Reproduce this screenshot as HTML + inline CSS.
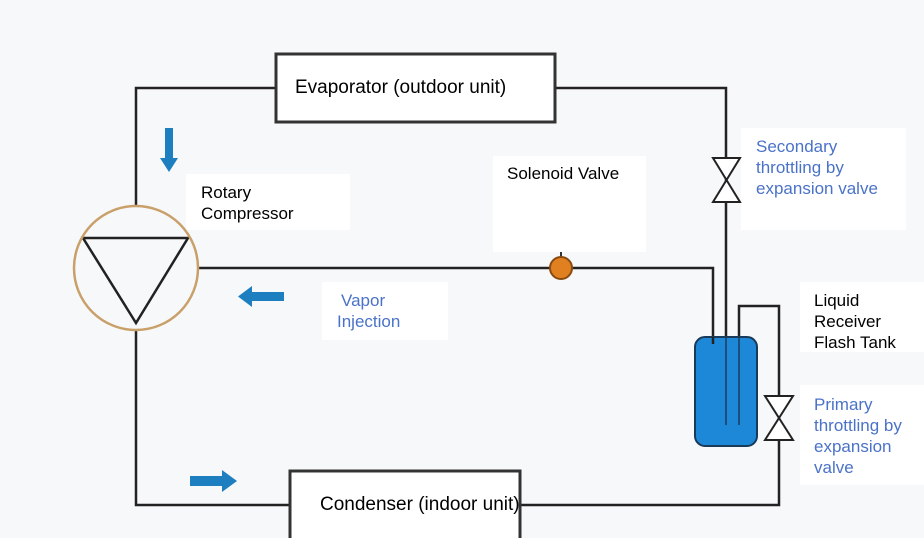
<!DOCTYPE html>
<html><head><style>
body{margin:0;background:#f7f8fa;}
.t{position:absolute;font-family:"Liberation Sans",sans-serif;font-size:17px;line-height:21px;}
.w{position:absolute;background:#fff;}
.b{color:#4a72c8;}
</style></head><body>
<div style="position:relative;width:924px;height:538px;overflow:hidden;">
<div class="w" style="left:186px;top:174px;width:164px;height:56px"></div>
<div class="w" style="left:493px;top:156px;width:153px;height:96px"></div>
<div class="w" style="left:741px;top:128px;width:165px;height:102px"></div>
<div class="w" style="left:322px;top:282px;width:126px;height:58px"></div>
<div class="w" style="left:800px;top:282px;width:124px;height:70px"></div>
<div class="w" style="left:800px;top:385px;width:124px;height:100px"></div>
<svg width="924" height="538" style="position:absolute;left:0;top:0">
<g stroke="#222" stroke-width="2.5" fill="none">
<path d="M136 206V88H276M555 88H726V340"/>
<path d="M198 268H713V340"/>
<path d="M739 425V306H779V505H520"/>
<path d="M136 330V505H290"/>
<path d="M83 238H188L136 323Z" stroke-width="2.5"/>
</g>
<circle cx="136" cy="268" r="62" fill="none" stroke="#c9a06a" stroke-width="2.5"/>
<rect x="276" y="54" width="279" height="68" fill="#fff" stroke="#333" stroke-width="3"/>
<rect x="290" y="471" width="230" height="80" fill="#fff" stroke="#333" stroke-width="3"/>
<rect x="695" y="337" width="62" height="109" rx="10" fill="#1e88d8" stroke="#1a3a5a" stroke-width="2"/>
<path d="M726 337V425M739 337V425" stroke="#1a3a5a" stroke-width="1.5"/>
<path d="M713 337V344" stroke="#222" stroke-width="2.5"/>
<g fill="#fff" stroke="#222" stroke-width="2">
<path d="M713 158H740L713 202H740Z"/>
<path d="M765 396H793L765 440H793Z"/>
</g>
<line x1="561" y1="258" x2="561" y2="252" stroke="#333" stroke-width="2"/>
<circle cx="561" cy="268" r="11" fill="#e08020" stroke="#8a4a10" stroke-width="2"/>
<g fill="#1e7fc0">
<path d="M165 128h8v30h5l-9 14l-9-14h5z"/>
<path d="M284 292v9h-32v6l-14-10.5l14-10.5v6z"/>
<path d="M190 476h32v-6l15 11l-15 11v-6h-32z"/>
</g>
</svg>
<div class="t" style="left:295px;top:77px;font-size:19px">Evaporator (outdoor unit)</div>
<div class="t" style="left:320px;top:494px;font-size:19px">Condenser (indoor unit)</div>
<div class="t" style="left:201px;top:182px">Rotary<br>Compressor</div>
<div class="t" style="left:507px;top:163px">Solenoid Valve</div>
<div class="t b" style="left:756px;top:136px">Secondary<br>throttling by<br>expansion valve</div>
<div class="t b" style="left:337px;top:290px;text-indent:4px">Vapor<br>Injection</div>
<div class="t" style="left:814px;top:290px">Liquid<br>Receiver<br>Flash Tank</div>
<div class="t b" style="left:814px;top:394px">Primary<br>throttling by<br>expansion<br>valve</div>
</div>
</body></html>
